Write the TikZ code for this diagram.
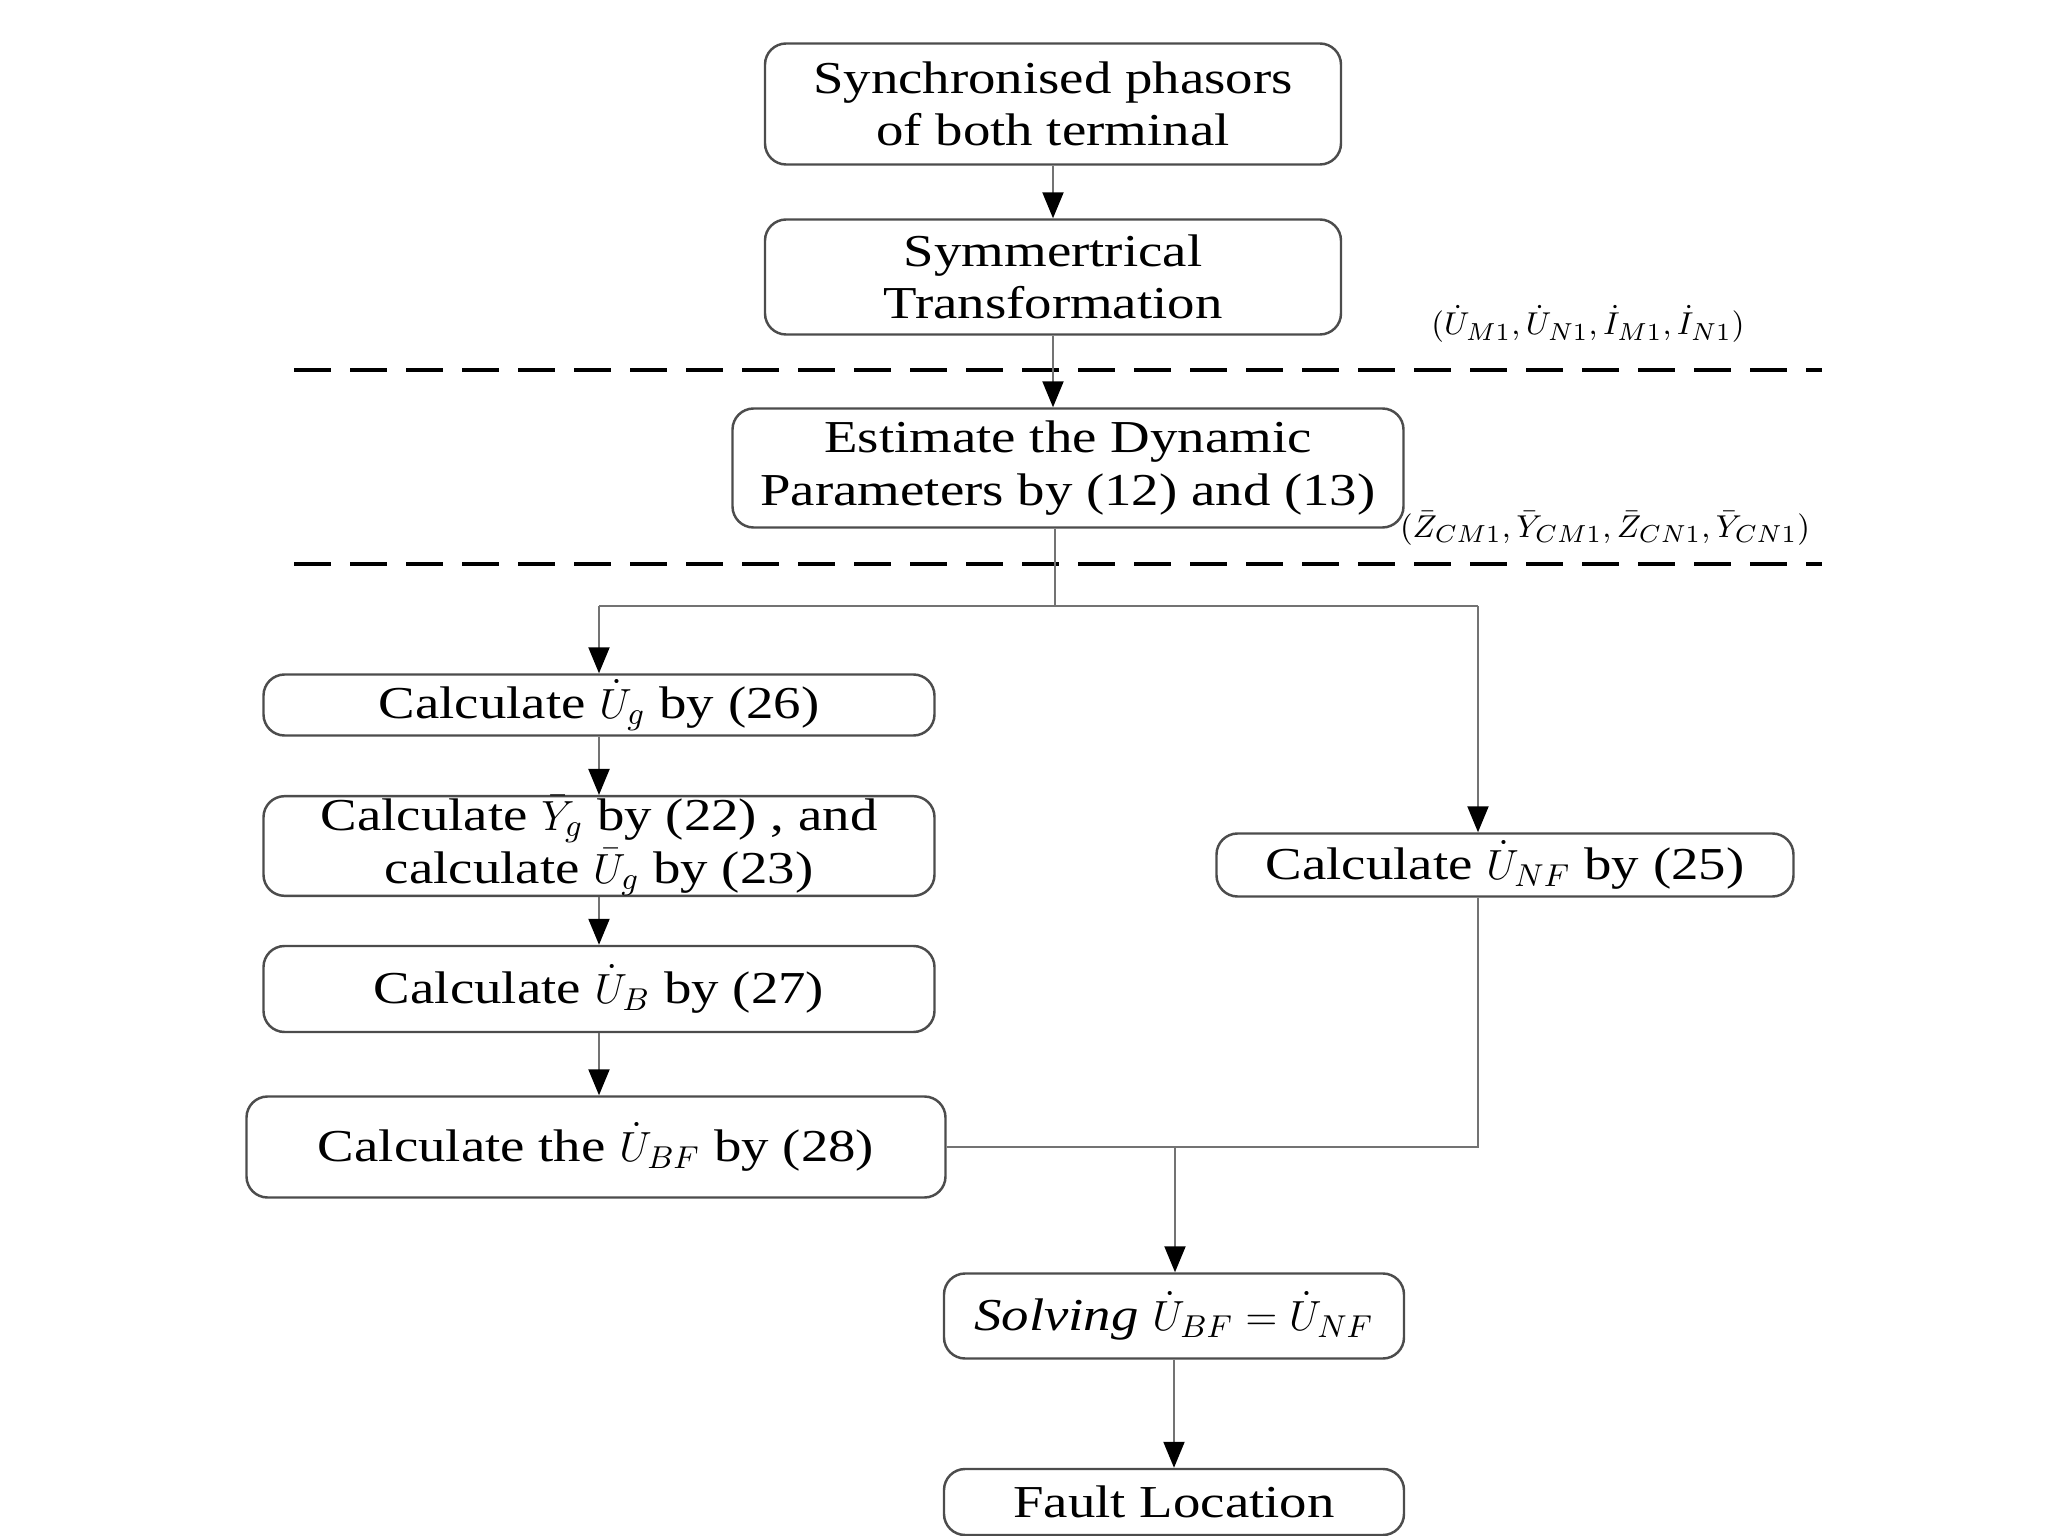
\documentclass[tikz,border=0pt]{standalone}
\usepackage{amsmath}
\usepackage{fontspec}
\setmainfont[FakeStretch=1.2]{Liberation Serif}
\usetikzlibrary{positioning, arrows.meta}

\begin{document}
\begin{tikzpicture}[
  proc/.style={draw=black!70, rounded corners=6pt, font=\fontsize{13}{15}\selectfont, align=center, inner sep=0pt, line width=0.7pt, fill=white},
  flow/.style={draw=black!55, line width=0.6pt},
  arr/.style={flow, -{Triangle[length=2.6mm, width=2.1mm, color=black]}},
  cut/.style={dash pattern=on 3.7mm off 1.9mm, line width=1.1pt},
  note/.style={font=\fontsize{9.5}{11}\selectfont}
]
\useasboundingbox (0,0) rectangle (20.48,-15.36);

\node[proc, minimum width=5.76cm, minimum height=1.21cm] (sync) at (10.53,-1.04) {Synchronised phasors\\ of both terminal};
\node[proc, minimum width=5.76cm, minimum height=1.15cm] (symm) at (10.53,-2.77) {Symmertrical\\ Transformation};
\node[proc, minimum width=6.71cm, minimum height=1.19cm] (est) at (10.68,-4.68) {Estimate the Dynamic\\ Parameters by (12) and (13)};
\node[proc, minimum width=6.71cm, minimum height=0.61cm] (ug) at (5.99,-7.05) {Calculate $\dot U_g$ by (26)};
\node[proc, minimum width=6.71cm, minimum height=0.95cm] (yg) at (5.99,-8.46) {Calculate $\bar Y_g$ by (22) , and\\ calculate $\bar U_g$ by (23)};
\node[proc, minimum width=6.71cm, minimum height=0.86cm] (ub) at (5.99,-9.89) {Calculate $\dot U_B$ by (27)};
\node[proc, minimum width=6.99cm, minimum height=1.01cm] (ubf) at (5.96,-11.47) {Calculate the $\dot U_{BF}$ by (28)};
\node[proc, minimum width=5.77cm, minimum height=0.63cm] (unf) at (15.05,-8.65) {Calculate $\dot U_{NF}$ by (25)};
\node[proc, minimum width=4.60cm, minimum height=0.85cm] (solve) at (11.74,-13.16) {\textit{Solving} $\dot U_{BF}=\dot U_{NF}$};
\node[proc, minimum width=4.60cm, minimum height=0.66cm] (fault) at (11.74,-15.02) {Fault Location};

% separators and exchanged quantities
\draw[cut] (2.94,-3.70) -- (18.22,-3.70);
\draw[cut] (2.94,-5.64) -- (18.22,-5.64);
\node[note] (meas) at (15.88,-3.24) {$(\dot U_{M1},\dot U_{N1},\dot I_{M1},\dot I_{N1})$};
\node[note] (prm) at (16.05,-5.28) {$(\bar Z_{CM1},\bar Y_{CM1},\bar Z_{CN1},\bar Y_{CN1})$};

\coordinate (split) at (10.55,-6.06);
\coordinate (rcol) at (14.78,-6.06);
\coordinate (join) at (11.75,-11.47);

\draw[arr] (sync.south) -- (symm.north);
\draw[arr] (symm.south) -- (symm.south |- est.north);
\draw[flow] (est.south -| split) -- (split);
\draw[flow] (ug.north |- split) -- (rcol);
\draw[arr] (ug.north |- split) -- (ug.north);
\draw[arr] (rcol) -- (rcol |- unf.north);
\draw[arr] (ug.south) -- (yg.north);
\draw[arr] (yg.south) -- (ub.north);
\draw[arr] (ub.south) -- (ub.south |- ubf.north);
\draw[flow] (ubf.east) -- (rcol |- ubf.east) -- (rcol |- unf.south);
\draw[arr] (join) -- (join |- solve.north);
\draw[arr] (solve.south) -- (fault.north);
\end{tikzpicture}
\end{document}
